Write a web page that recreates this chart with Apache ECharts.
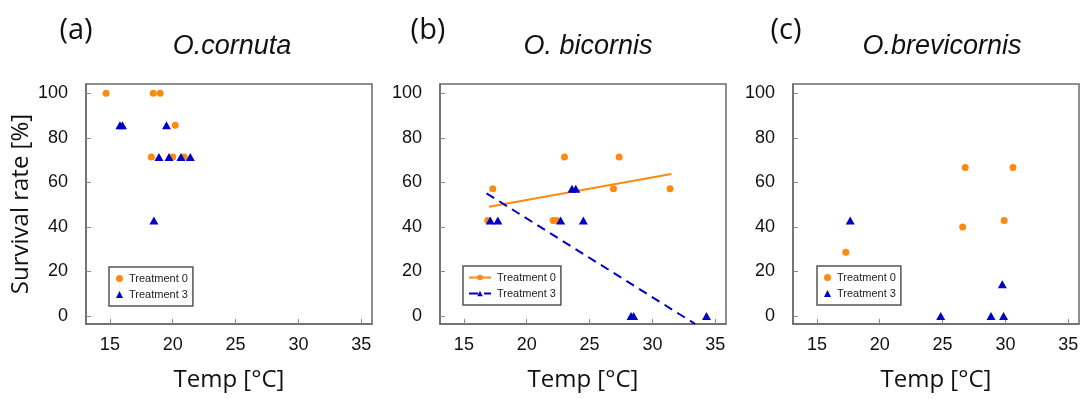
<!DOCTYPE html>
<html>
<head>
<meta charset="utf-8">
<script src="https://cdn.jsdelivr.net/npm/echarts@6/dist/echarts.min.js"></script>
<style>html,body{margin:0;padding:0;background:#fff}#c{width:1090px;height:399px}</style>
</head>
<body>
<div id="c"></div>
<script>
// ---- data ----
const panelLabels = ['(a)', '(b)', '(c)'];
const speciesTitles = ['O.cornuta', 'O. bicornis', 'O.brevicornis'];
const seriesNames = ['Treatment 0', 'Treatment 3'];
const xTicks = [15, 20, 25, 30, 35];
const yTicks = [0, 20, 40, 60, 80, 100];

// (a) O.cornuta  [temp, survival]
const cornutaT0 = [[14.7,100],[18.45,100],[19.0,100],[20.2,85.7],[18.3,71.4],[20.0,71.4],[20.9,71.4]];
const cornutaT3 = [[15.8,85.7],[16.0,85.7],[19.5,85.7],[18.9,71.4],[19.7,71.4],[20.65,71.4],[21.4,71.4],[18.5,42.9]];
// (b) O. bicornis
const bicornisT0 = [[17.3,57.1],[16.9,42.9],[22.1,42.9],[22.4,42.9],[23.0,71.4],[27.35,71.4],[26.9,57.1],[31.4,57.1]];
const bicornisT3 = [[17.1,42.9],[17.7,42.9],[22.7,42.9],[24.5,42.9],[23.6,57.1],[23.9,57.1],[28.3,0],[28.5,0],[34.3,0]];
const bicornisFitT0 = [[17.0,49.1],[31.5,63.8]];
const bicornisFitT3 = [[16.8,55.1],[33.4,-3.6]];
// (c) O.brevicornis
const brevicornisT0 = [[17.3,28.6],[26.8,66.7],[30.6,66.7],[26.6,40.0],[29.9,42.9]];
const brevicornisT3 = [[17.65,42.9],[24.85,0],[28.85,0],[29.85,0],[29.75,14.3]];

// ---- styles ----
const ORANGE = '#FF8A0D';
const BLUE = '#0000C8';
const gridLefts = [86, 440, 793];
const labelCenters = [71, 423, 781];
const titleCenters = [227, 583, 937];
const legendPos = [[109, 267], [463, 266], [817, 266]];

const grids = gridLefts.map(l => ({left: l, top: 84, width: 286, height: 240, show: true, borderColor: '#6a6a6a', borderWidth: 1.5, backgroundColor: 'transparent'}));

const xAxes = gridLefts.map((l, i) => ({
  type: 'value', gridIndex: i, min: 13.1, max: 35.85,
  name: 'Temp [°C]', nameLocation: 'middle', nameGap: 44,
  nameTextStyle: {fontFamily: 'Open Sans', fontSize: 24, color: '#111'},
  axisLine: {show: true, onZero: false, lineStyle: {color: '#6a6a6a', width: 1.5}},
  axisTick: {show: true, inside: true, length: 5, customValues: xTicks, lineStyle: {color: '#888'}},
  axisLabel: {customValues: xTicks, margin: 12, fontFamily: 'Liberation Sans', fontSize: 18, color: '#111'},
  splitLine: {show: false}
}));

const yAxes = gridLefts.map((l, i) => ({
  type: 'value', gridIndex: i, min: -3.6, max: 104.2,
  name: i === 0 ? 'Survival rate [%]' : '', nameLocation: 'middle', nameGap: 53,
  nameTextStyle: {fontFamily: 'Open Sans', fontSize: 24, color: '#111'},
  axisLine: {show: true, onZero: false, lineStyle: {color: '#6a6a6a', width: 1.5}},
  axisTick: {show: true, inside: true, length: 5, customValues: yTicks, lineStyle: {color: '#888'}},
  axisLabel: {customValues: yTicks, margin: 18, fontFamily: 'Liberation Sans', fontSize: 18, color: '#111'},
  splitLine: {show: false}
}));

function pts(name, data, gi, sym) {
  const tri = sym === 'triangle';
  return {type: 'scatter', name: name, xAxisIndex: gi, yAxisIndex: gi, data: data,
    symbol: tri ? 'triangle' : 'circle', symbolSize: tri ? [9, 8] : 7,
    itemStyle: {color: tri ? BLUE : ORANGE, opacity: 1}, z: tri ? 3 : 2};
}
// names per panel (trailing spaces keep legends separate; trimmed in display)
const nA = seriesNames, nB = seriesNames.map(s => s + ' '), nC = seriesNames.map(s => s + '  ');

const series = [
  pts(nA[0], cornutaT0, 0, 'circle'),
  pts(nA[1], cornutaT3, 0, 'triangle'),
  pts('b0pts', bicornisT0, 1, 'circle'),
  pts('b3pts', bicornisT3, 1, 'triangle'),
  {type: 'line', name: nB[0], xAxisIndex: 1, yAxisIndex: 1, data: bicornisFitT0, showSymbol: false,
   symbol: 'circle', symbolSize: 7, itemStyle: {color: ORANGE}, lineStyle: {color: ORANGE, width: 2}, z: 1, silent: true},
  {type: 'line', name: nB[1], xAxisIndex: 1, yAxisIndex: 1, data: bicornisFitT3, showSymbol: false,
   symbol: 'triangle', symbolSize: 8, itemStyle: {color: BLUE}, lineStyle: {color: BLUE, width: 2, type: [9, 6]}, z: 1, silent: true},
  pts(nC[0], brevicornisT0, 2, 'circle'),
  pts(nC[1], brevicornisT3, 2, 'triangle')
];

const legendNames = [nA, nB, nC];
const legends = legendPos.map((p, i) => ({
  left: p[0], top: p[1], orient: 'vertical', data: legendNames[i],
  itemWidth: i === 1 ? 22 : 7, itemHeight: 7, itemGap: 5,
  padding: i === 1 ? [6, 5, 6, 5] : [6, 5, 6, 7],
  borderColor: '#555', borderWidth: 1.5, borderRadius: 0,
  textStyle: {fontFamily: 'Liberation Sans', fontSize: 11, color: '#222', padding: [0, 0, 0, 1]},
  formatter: n => n.trim(), selectedMode: false
}));

const titles = [];
panelLabels.forEach((t, i) => titles.push({text: t, left: labelCenters[i], top: 11, textAlign: 'center',
  textStyle: {fontFamily: 'Open Sans', fontSize: 29, fontWeight: 'normal', color: '#111'}}));
speciesTitles.forEach((t, i) => titles.push({text: t, left: titleCenters[i], top: 28, textAlign: 'center',
  textStyle: {fontFamily: 'Liberation Sans', fontSize: 27, fontStyle: 'italic', fontWeight: 'normal', color: '#111'}}));

const chart = echarts.init(document.getElementById('c'), null, {renderer: 'canvas'});
chart.setOption({
  animation: false, backgroundColor: '#fff',
  title: titles, grid: grids, xAxis: xAxes, yAxis: yAxes, legend: legends, series: series
});
</script>
</body>
</html>
